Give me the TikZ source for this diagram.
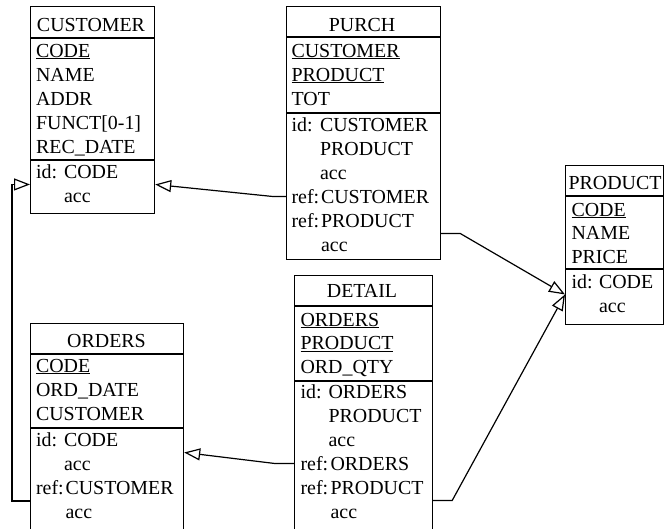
\documentclass[tikz,border=0pt]{standalone}
\usepackage{fontspec}
\setmainfont{Liberation Serif}
\usetikzlibrary{arrows.meta,calc}

\begin{document}
\begin{tikzpicture}[x=1pt,y=-1pt,line width=1.2pt,
  font=\fontsize{19.9}{24}\selectfont,
  tbl/.style={draw,anchor=north west,inner sep=0pt},
  hd/.style={anchor=base,inner sep=0pt},
  att/.style={anchor=base west,inner sep=0pt},
  ar/.style={-{Triangle[open,length=16pt,width=12pt]}}]
\useasboundingbox (0,0) rectangle (664,528);

% CUSTOMER
\node[tbl,minimum width=124pt,minimum height=207pt] (cust) at (30,6) {};
\draw (30,38) -- (154,38) (30,160) -- (154,160);
\node[hd] (cust-h) at (91,31) {CUSTOMER};
\foreach \t [count=\i from 0] in {\underline{CODE},NAME,ADDR,{FUNCT[0-1]},REC\_DATE}
  \node[att] (cust-a\i) at (35.5,57+24*\i) {\t};
\node[att] (cust-id) at (35.5,178) {id:};
\node[att] (cust-ic) at (63.5,178) {CODE};
\node[att] (cust-ia) at (63.5,202) {acc};

% PURCH
\node[tbl,minimum width=154pt,minimum height=253pt] (purch) at (286,6) {};
\draw (286,37) -- (440,37) (286,113) -- (440,113);
\node[hd] (purch-h) at (362,31) {PURCH};
\foreach \t [count=\i from 0] in {\underline{CUSTOMER},\underline{PRODUCT},TOT}
  \node[att] (purch-a\i) at (291,57+24*\i) {\t};
\node[att] (purch-id) at (291,131) {id:};
\node[att] (purch-ic) at (319.5,131) {CUSTOMER};
\node[att] (purch-ip) at (319.5,155) {PRODUCT};
\node[att] (purch-ia) at (319.5,179) {acc};
\node[att] (purch-r1) at (291,203) {ref:};
\node[att] (purch-rc) at (320.5,203) {CUSTOMER};
\node[att] (purch-r2) at (291,227) {ref:};
\node[att] (purch-rp) at (320.5,227) {PRODUCT};
\node[att] (purch-ra) at (320.5,251) {acc};

% PRODUCT
\node[tbl,minimum width=97.5pt,minimum height=159pt] (prod) at (565,165) {};
\draw (565,196) -- (662.5,196) (565,269) -- (662.5,269);
\node[hd] (prod-h) at (615,189) {PRODUCT};
\foreach \t [count=\i from 0] in {\underline{CODE},NAME,PRICE}
  \node[att] (prod-a\i) at (571,216+23.5*\i) {\t};
\node[att] (prod-id) at (571,288) {id:};
\node[att] (prod-ic) at (598.5,288) {CODE};
\node[att] (prod-ia) at (598.5,312) {acc};

% ORDERS
\node[tbl,minimum width=153pt,minimum height=207pt] (ord) at (30,323) {};
\draw (30,354) -- (183,354) (30,428) -- (183,428);
\node[hd] (ord-h) at (106.5,347) {ORDERS};
\foreach \t [count=\i from 0] in {\underline{CODE},ORD\_DATE,CUSTOMER}
  \node[att] (ord-a\i) at (35.5,372+24*\i) {\t};
\node[att] (ord-id) at (35.5,446) {id:};
\node[att] (ord-ic) at (63.5,446) {CODE};
\node[att] (ord-ia) at (63.5,470) {acc};
\node[att] (ord-r1) at (35.5,494.5) {ref:};
\node[att] (ord-rc) at (65,494.5) {CUSTOMER};
\node[att] (ord-ra) at (65,518.5) {acc};

% DETAIL
\node[tbl,minimum width=138pt,minimum height=255pt] (det) at (294,275) {};
\draw (294,306) -- (432,306) (294,381) -- (432,381);
\node[hd] (det-h) at (362,297) {DETAIL};
\foreach \t [count=\i from 0] in {\underline{ORDERS},\underline{PRODUCT},ORD\_QTY}
  \node[att] (det-a\i) at (300,326+23.5*\i) {\t};
\node[att] (det-id) at (300,398) {id:};
\node[att] (det-io) at (328,398) {ORDERS};
\node[att] (det-ip) at (328,422) {PRODUCT};
\node[att] (det-ia) at (328,446) {acc};
\node[att] (det-r1) at (300,470) {ref:};
\node[att] (det-ro) at (330,470) {ORDERS};
\node[att] (det-r2) at (300,494) {ref:};
\node[att] (det-rp) at (330,494) {PRODUCT};
\node[att] (det-ra) at (330,518) {acc};

% key and ref points
\coordinate (cust-k) at ($(cust-ic)!.5!(cust-ia)$);
\coordinate (prod-k) at ($(prod-ic)!.5!(prod-ia)$);
\coordinate (ord-k) at ($(ord-ic)!.5!(ord-ia)$);
\coordinate (purch-k) at ($(purch-rp)!.5!(purch-ra)$);
\coordinate (det-k) at ($(det-rp)!.5!(det-ra)$);
\coordinate (ord-kr) at ($(ord-rc)!.5!(ord-ra)$);

\draw[ar] (purch.west |- purch-rc) -- ++(-13,0) -- (cust.east |- cust-k);
\draw[ar] (purch.east |- purch-k) -- ++(19,0) -- (prod.west |- prod-k);
\draw[ar] (det.east |- det-k) -- ++(19,0) -- (prod.west |- prod-k);
\draw[ar] (det.west |- det-ro) -- ++(-19,0) -- (ord.east |- ord-k);
\draw[ar] (ord.west |- ord-kr) -- ++(-18,0) |- (cust.west |- cust-k);
\end{tikzpicture}
\end{document}
